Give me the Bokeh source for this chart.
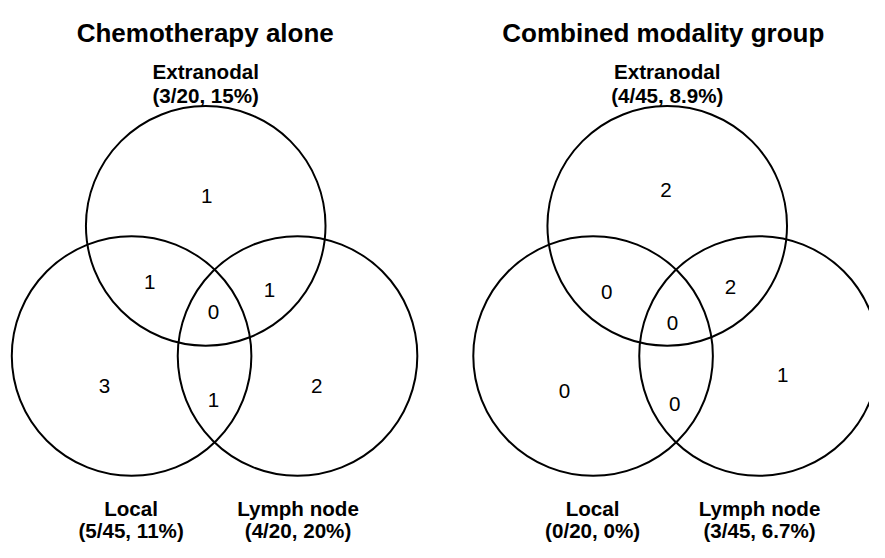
from bokeh.plotting import figure
from bokeh.models import Range1d
from bokeh.core.properties import value
from bokeh.embed import file_html
from bokeh.resources import INLINE

# ---------------- data ----------------
groups = ["Chemotherapy alone", "Combined modality group"]
set_names = ["Extranodal", "Local", "Lymph node"]
set_counts = [[3, 5, 4], [4, 0, 3]]
set_totals = [[20, 45, 20], [45, 20, 45]]
set_pcts = [["15%", "11%", "20%"], ["8.9%", "0%", "6.7%"]]
# regions: E only, E&L, E&N, E&L&N, L only, L&N, N only
region_keys = ["E", "EL", "EN", "ELN", "L", "LN", "N"]
chemo_regions = [1, 1, 1, 0, 3, 1, 2]
combined_regions = [2, 0, 2, 0, 0, 0, 1]
region_counts = [chemo_regions, combined_regions]

# ---------------- layout (reference-image pixel coordinates) ----------------
GROUP_DX = [0, 470]
RADIUS = 122
circle_centers = {"Extranodal": (209, 232), "Local": (133.5, 366), "Lymph node": (302.5, 366)}
title_pos = [(208.5, 33.3), (675, 33.3)]
set_label_pos = {"Extranodal": (209, 73.3, 98), "Local": (133, 523, 546), "Lymph node": (303, 523, 546)}
region_pos = [
    {"E": (210, 201.7), "EL": (152, 290), "EN": (274, 298), "ELN": (217, 320.7),
     "L": (106, 397), "LN": (217, 411.7), "N": (322, 396.7)},
    {"E": (677.7, 195), "EL": (617.3, 300), "EN": (743.3, 295), "ELN": (684.3, 331.7),
     "L": (574.3, 401.7), "LN": (686.7, 415), "N": (796.7, 386)},
]

FONT = value("Liberation Sans")

p = figure(width=869, height=542, x_range=Range1d(0, 885), y_range=Range1d(558, 0),
           output_backend="svg", toolbar_location=None, x_axis_type=None, y_axis_type=None,
           min_border=0)
p.grid.visible = False
p.outline_line_color = None
p.background_fill_color = "white"
p.border_fill_color = "white"

cx, cy = [], []
tx, ty, tt = [], [], []
lx, ly, lt = [], [], []
rx, ry, rt = [], [], []
for g, name in enumerate(groups):
    dx = GROUP_DX[g]
    for s in set_names:
        cx.append(circle_centers[s][0] + dx)
        cy.append(circle_centers[s][1])
    tx.append(title_pos[g][0]); ty.append(title_pos[g][1]); tt.append(name)
    for i, s in enumerate(set_names):
        x0, y1, y2 = set_label_pos[s]
        lx += [x0 + dx, x0 + dx]
        ly += [y1, y2]
        lt += [s, "(%d/%d, %s)" % (set_counts[g][i], set_totals[g][i], set_pcts[g][i])]
    for k, key in enumerate(region_keys):
        px, py = region_pos[g][key]
        rx.append(px); ry.append(py); rt.append(str(region_counts[g][k]))

p.circle(x=cx, y=cy, radius=RADIUS, fill_color=None, line_color="black", line_width=2)

p.text(x=tx, y=ty, text=tt, text_align="center", text_baseline="alphabetic",
       text_font=FONT, text_font_size=value("26px"), text_font_style="bold", text_color="black")
p.text(x=lx, y=ly, text=lt, text_align="center", text_baseline="alphabetic",
       text_font=FONT, text_font_size=value("20.6px"), text_font_style="bold", text_color="black")
p.text(x=rx, y=ry, text=rt, text_align="center", text_baseline="alphabetic",
       text_font=FONT, text_font_size=value("20.6px"), text_color="black")

open("out.html", "w").write(file_html(p, INLINE))
